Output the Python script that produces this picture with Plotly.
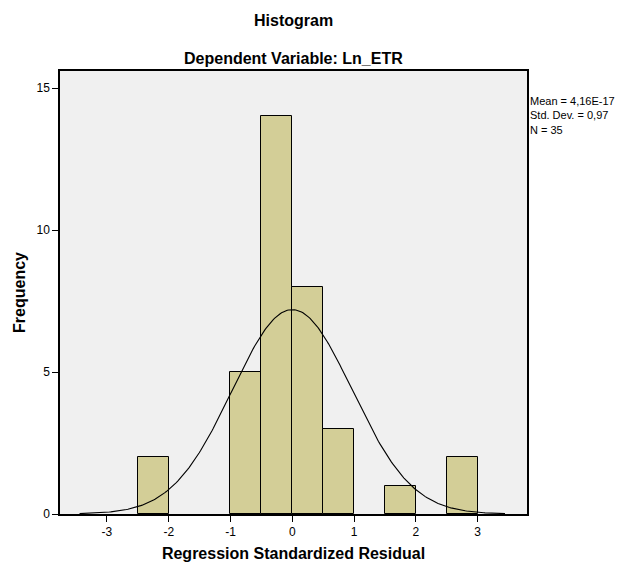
import numpy as np
import plotly.graph_objects as go

# Data
bin_left = [-2.5, -1.0, -0.5, 0.0, 0.5, 1.5, 2.5]
counts = [2, 5, 14, 8, 3, 1, 2]
bin_width = 0.5
mean_val = 4.16e-17
std_val = 0.97
n_val = 35
x_ticks = [-3, -2, -1, 0, 1, 2, 3]
y_ticks = [0, 5, 10, 15]

centers = [b + bin_width / 2 for b in bin_left]

xs = np.linspace(mean_val - 3.55 * std_val, mean_val + 3.55 * std_val, 300)
ys = n_val * bin_width / (std_val * np.sqrt(2 * np.pi)) * np.exp(-0.5 * ((xs - mean_val) / std_val) ** 2)

fig = go.Figure()
fig.add_trace(go.Bar(
    x=centers, y=counts, width=bin_width,
    marker=dict(color="#D3CE97", line=dict(color="black", width=1)),
    hoverinfo="x+y", showlegend=False,
))
fig.add_trace(go.Scatter(
    x=xs, y=ys, mode="lines", line=dict(color="black", width=1.1),
    showlegend=False, hoverinfo="skip",
))

font_family = "Liberation Sans, Arial, sans-serif"

# page body has an 8px default margin; compensate
OFF = 8
W, H = 623 - OFF, 567 - OFF
ML, MR, MT, MB = 60 - OFF, 96, 71 - OFF, 53
plot_h = H - MT - MB

fig.update_layout(
    width=W, height=H,
    margin=dict(l=ML, r=MR, t=MT, b=MB, autoexpand=False),
    paper_bgcolor="white",
    plot_bgcolor="#F0F0F0",
    font=dict(family=font_family, color="black", size=12),
    bargap=0,
    xaxis=dict(
        range=[-3.76, 3.80], tickvals=x_ticks, ticktext=[str(v) for v in x_ticks],
        showgrid=False, zeroline=False, showline=True, linecolor="black", linewidth=1.5,
        mirror=True, ticks="outside", ticklen=6, tickcolor="black", automargin=False,
        title=dict(text="<b>Regression Standardized Residual</b>", font=dict(size=16), standoff=10),
    ),
    yaxis=dict(
        range=[0, 15.6], tickvals=y_ticks, ticktext=[str(v) for v in y_ticks],
        showgrid=False, zeroline=False, showline=True, linecolor="black", linewidth=1.5,
        mirror=True, ticks="outside", ticklen=6, tickcolor="black", automargin=False,
        title=dict(text="<b>Frequency</b>", font=dict(size=16), standoff=7),
    ),
    annotations=[
        dict(text="<b>Histogram</b>", xref="paper", yref="paper",
             x=0.5, y=1 + (71 - 21) / plot_h, yanchor="middle", showarrow=False, font=dict(size=16)),
        dict(text="<b>Dependent Variable: Ln_ETR</b>", xref="paper", yref="paper",
             x=0.5, y=1 + (71 - 58) / plot_h, yanchor="middle", showarrow=False, font=dict(size=16)),
        dict(text="Mean = 4,16E-17<br>Std. Dev. = 0,97<br>N = 35", xref="paper", yref="paper",
             x=1.0, y=1.0, xanchor="left", yanchor="top", align="left", showarrow=False,
             font=dict(size=11), xshift=1, yshift=-22),
    ],
)

fig.write_html("out.html")
